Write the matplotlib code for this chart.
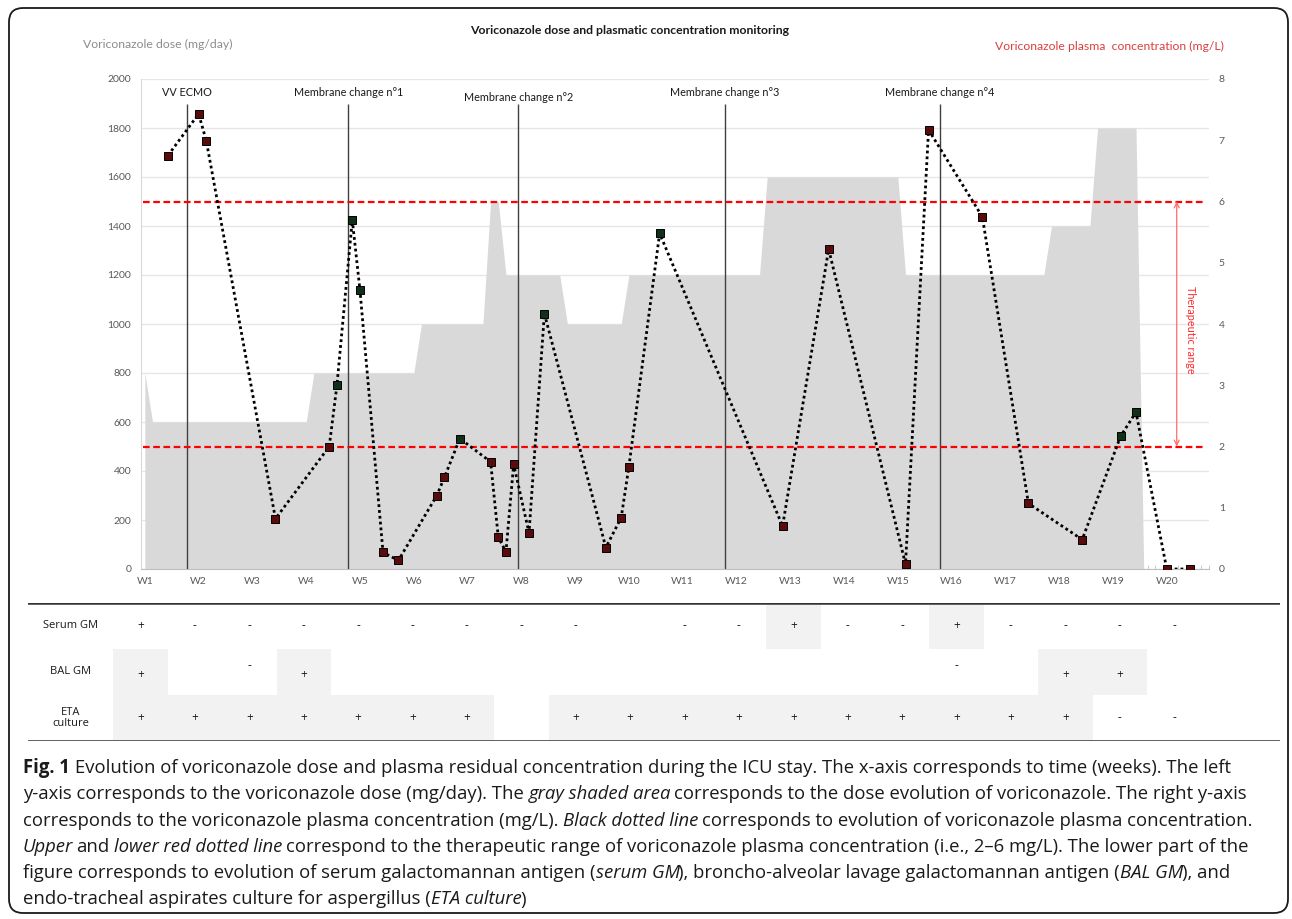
import matplotlib
matplotlib.use('Agg')
import matplotlib.pyplot as plt
from matplotlib.patches import FancyBboxPatch, Rectangle
from matplotlib.ticker import FixedLocator

plt.rcParams['font.family'] = ['Lato', 'DejaVu Sans']

W, H = 1292, 919

# ---- data (x in days, W1 = day 0) ----
week_labels = ['W%d' % i for i in range(1, 21)]
week_days = [7 * i for i in range(20)]

dose_days = [0, 1, 21, 22, 35, 36, 44, 45, 46, 47, 54, 55, 62, 63,
             80, 81, 98, 99, 117, 118, 123, 124, 129, 130, 138.5]
dose_mg = [800, 600, 600, 800, 800, 1000, 1000, 1500, 1500, 1200, 1200, 1000, 1000, 1200,
           1200, 1600, 1600, 1200, 1200, 1400, 1400, 1800, 1800, 0, 0]

conc_days = [3, 7, 8, 17, 24, 25, 27, 28, 31, 33, 38, 39, 41, 45, 46, 47, 48, 50, 52,
             60, 62, 63, 67, 83, 89, 99, 102, 109, 115, 122, 127, 129, 133, 136]
conc_mgL = [6.75, 7.43, 6.99, 0.82, 2.0, 3.0, 5.7, 4.55, 0.27, 0.14, 1.2, 1.5, 2.13, 1.75,
            0.52, 0.28, 1.71, 0.59, 4.17, 0.35, 0.84, 1.67, 5.48, 0.70, 5.22, 0.08, 7.17,
            5.75, 1.07, 0.48, 2.17, 2.56, 0.0, 0.0]
conc_kind = ['r', 'r', 'r', 'r', 'r', 'g', 'g', 'g', 'r', 'r', 'r', 'r', 'g', 'r', 'r', 'r', 'r',
             'r', 'g', 'r', 'r', 'r', 'g', 'r', 'r', 'r', 'r', 'r', 'r', 'r', 'g', 'g', 'r', 'r']

event_days = [5.5, 26.5, 48.6, 75.5, 103.5]
event_labels = ['VV ECMO', 'Membrane change n°1', 'Membrane change n°2',
                'Membrane change n°3', 'Membrane change n°4']

therapeutic = [2, 6]

left_ticks = list(range(0, 2001, 200))
right_ticks = list(range(0, 9))

table_rows = ['Serum GM', 'BAL GM', 'ETA\nculture']
serum_gm = ['+', '-', '-', '-', '-', '-', '-', '-', '-', '', '-', '-', '+', '-', '-', '+', '-', '-', '-', '-']
bal_gm = ['+', '', '-', '+', '', '', '', '', '', '', '', '', '', '', '', '-', '', '+', '+', '']
eta_culture = ['+'] * 7 + [''] + ['+'] * 10 + ['-', '-']
serum_shaded = [12, 15]
bal_shaded = [0, 3, 17, 18]
eta_shaded = [0, 1, 2, 3, 4, 5, 6, 8, 9, 10, 11, 12, 13, 14, 15, 16, 17]

caption = [
    [('Fig. 1', 'b'), (' Evolution of voriconazole dose and plasma residual concentration during the ICU stay. The x-axis corresponds to time (weeks). The left', 'n')],
    [('y-axis corresponds to the voriconazole dose (mg/day). The ', 'n'), ('gray shaded area', 'i'), (' corresponds to the dose evolution of voriconazole. The right y-axis', 'n')],
    [('corresponds to the voriconazole plasma concentration (mg/L). ', 'n'), ('Black dotted line', 'i'), (' corresponds to evolution of voriconazole plasma concentration.', 'n')],
    [('Upper', 'i'), (' and ', 'n'), ('lower red dotted line', 'i'), (' correspond to the therapeutic range of voriconazole plasma concentration (i.e., 2–6 mg/L). The lower part of the', 'n')],
    [('figure corresponds to evolution of serum galactomannan antigen (', 'n'), ('serum GM', 'i'), ('), broncho-alveolar lavage galactomannan antigen (', 'n'), ('BAL GM', 'i'), ('), and', 'n')],
    [('endo-tracheal aspirates culture for aspergillus (', 'n'), ('ETA culture', 'i'), (')', 'n')],
]

fig = plt.figure(figsize=(W / 100, H / 100), dpi=100)
fig.patch.set_facecolor('white')

# overlay in pixel units for frame, titles and caption
ov = fig.add_axes([0, 0, 1, 1])
ov.set_xlim(0, W)
ov.set_ylim(H, 0)
ov.axis('off')
ov.add_patch(FancyBboxPatch((9, 8), 1279, 905, boxstyle='round,pad=0,rounding_size=14',
                            fc='none', ec='#1a1a1a', lw=1.3))

ov.text(630, 31, 'Voriconazole dose and plasmatic concentration monitoring',
        ha='center', va='center', fontsize=8.8, fontweight='bold', color='#1a1a1a')
ov.text(83, 44, 'Voriconazole dose (mg/day)', ha='left', va='center',
        fontsize=8.8, color='#8c8c8c')
ov.text(995, 46, 'Voriconazole plasma  concentration (mg/L)', ha='left', va='center',
        fontsize=8.8, color='#d9413f')

# ---- main chart ----
ax = fig.add_axes([141 / W, 1 - 569 / H, (1209 - 141) / W, (569 - 79) / H])
ax.set_xlim(-0.5, 138.5)
ax.set_ylim(0, 2000)
ax.fill_between(dose_days, dose_mg, 0, color='#d9d9d9', lw=0, zorder=1)
ax.set_axisbelow(True)
ax.yaxis.grid(True, color='#e6e6e6', lw=1)
ax.set_yticks(left_ticks)
ax.tick_params(axis='y', length=0, pad=7, labelsize=7.5, labelcolor='#595959')
ax.set_xticks(week_days)
ax.set_xticklabels(week_labels)
ax.xaxis.set_minor_locator(FixedLocator([d + 0.5 for d in range(-1, 139)]))
ax.tick_params(axis='x', which='major', length=0, pad=6, labelsize=7.5, labelcolor='#595959')
ax.tick_params(axis='x', which='minor', length=3, direction='in', color='#bfbfbf')
for s in ['top', 'right']:
    ax.spines[s].set_visible(False)
ax.spines['left'].set_color('#d9d9d9')
ax.spines['bottom'].set_color('#bfbfbf')

ax.vlines(event_days, 0, 1900, color='#404040', lw=1, zorder=3)
for i, (d, lab) in enumerate(zip(event_days, event_labels)):
    ax.text(d, 1925 if i == 2 else 1945, lab, ha='center', va='center',
            fontsize=7.8, color='#1a1a1a', zorder=4)

ax2 = ax.twinx()
ax2.set_xlim(-0.5, 138.5)
ax2.set_ylim(0, 8)
ax2.set_yticks(right_ticks)
ax2.tick_params(axis='y', length=0, pad=7, labelsize=7.5, labelcolor='#595959')
for s in ax2.spines.values():
    s.set_visible(False)

ax2.hlines(therapeutic, -0.2, 138.1, colors='#ff0000', linestyles=(0, (3, 1.6)), lw=1.6, zorder=3)
ax2.plot(conc_days, conc_mgL, color='black', lw=2.0, linestyle=(0, (1, 1.1)), zorder=4)
colors = {'r': '#5a0c0c', 'g': '#10301a'}
for d, c, k in zip(conc_days, conc_mgL, conc_kind):
    ax2.plot(d, c, marker='s', ms=5.2, mfc=colors[k], mec='black', mew=0.7, zorder=5)

ax2.annotate('', xy=(134.3, therapeutic[1]), xytext=(134.3, therapeutic[0]),
             arrowprops=dict(arrowstyle='<->', color='#ff6b6b', lw=0.9,
                             shrinkA=0, shrinkB=0, mutation_scale=9))
ax2.text(136.1, 3.9, 'Therapeutic range', rotation=-90, ha='center', va='center',
         fontsize=7.8, color='#ff2b2b')

# ---- table ----
col_px = 54.4
tax = fig.add_axes([28 / W, 1 - 740.7 / H, (1280 - 28) / W, (740.7 - 603) / H])
tax.set_xlim((28 - 140.5) / col_px, (1280 - 140.5) / col_px)
tax.set_ylim(3, 0)
tax.axis('off')
for r, cols in enumerate([serum_shaded, bal_shaded, eta_shaded]):
    for c in cols:
        tax.add_patch(Rectangle((c - 0.5, r), 1, 1, color='#f2f2f2', lw=0))
tfont = ['Open Sans', 'DejaVu Sans']
for r, vals in enumerate([serum_gm, bal_gm, eta_culture]):
    for c, v in enumerate(vals):
        if v:
            dy = -0.13 if (r == 1 and v == '-') else 0.05 * (r == 1)
            tax.text(c, r + 0.5 + dy, v, ha='center', va='center', fontsize=8.5,
                     color='#1a1a1a', family=tfont)
for r, lab in enumerate(table_rows):
    tax.text((71 - 140.5) / col_px, r + 0.5, lab, ha='center', va='center', fontsize=8,
             color='#1a1a1a', family=tfont, linespacing=0.95)
tax.axhline(0, color='#333333', lw=1.8)
tax.axhline(3, color='#333333', lw=1.8)

# ---- caption with mixed styles ----
renderer = fig.canvas.get_renderer()
cfont = ['Open Sans', 'DejaVu Sans']


def seg_width(txt, style, size):
    t = ov.text(0, 0, txt, fontsize=size,
                fontweight='bold' if style == 'b' else 'normal',
                fontstyle='italic' if style == 'i' else 'normal', family=cfont)
    w = t.get_window_extent(renderer).width
    t.remove()
    return w


def space_width(style, size):
    return seg_width('x x', style, size) - seg_width('xx', style, size)


def draw_line(y, segs, size, x0=23):
    x = x0
    for txt, style in segs:
        sp = space_width(style, size)
        lead = len(txt) - len(txt.lstrip(' '))
        trail = len(txt) - len(txt.rstrip(' '))
        core = txt.strip(' ')
        x += lead * sp
        t = ov.text(x, y, core, fontsize=size, ha='left', va='center', color='#1a1a1a',
                    fontweight='bold' if style == 'b' else 'normal',
                    fontstyle='italic' if style == 'i' else 'normal', family=cfont)
        x += t.get_window_extent(renderer).width + trail * sp
        if style == 'i':
            x -= 1.5


# fit the first caption line to its width in the figure
base = 10
w1 = sum(seg_width(t.strip(' '), s, base) for t, s in caption[0]) + space_width('n', base)
csize = base * 1210 / w1
for i, segs in enumerate(caption):
    draw_line(768 + 26.3 * i, segs, csize)

fig.savefig('out.png', dpi=100, facecolor='white')
